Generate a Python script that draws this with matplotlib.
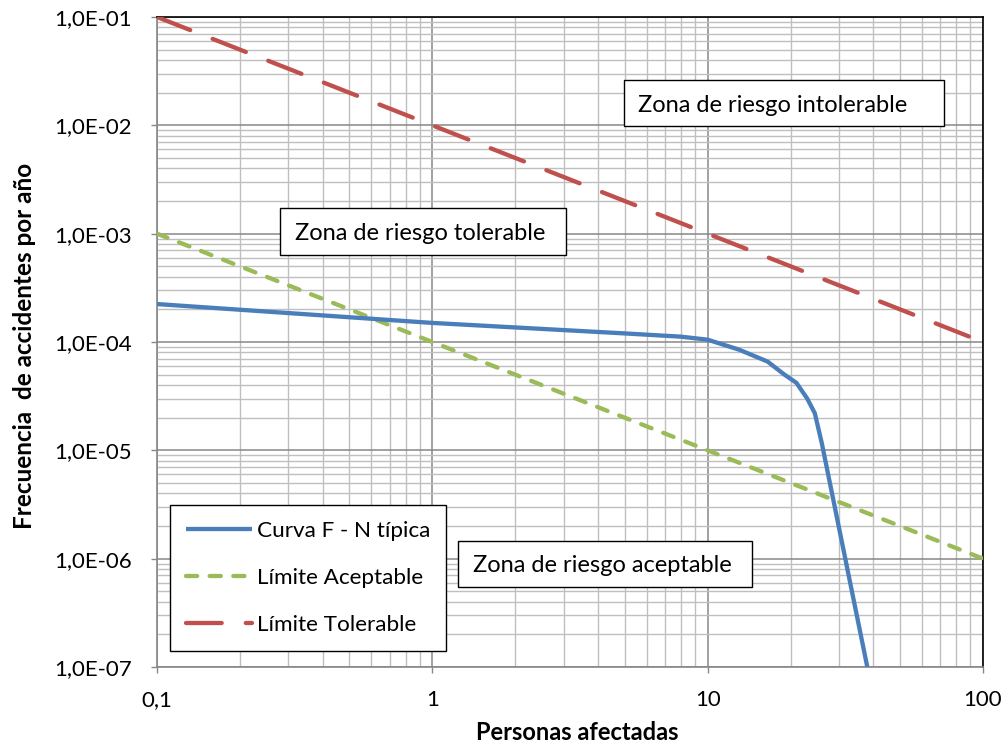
import matplotlib
matplotlib.use("Agg")
import matplotlib.pyplot as plt
from matplotlib.patches import Rectangle
from matplotlib.ticker import LogLocator, FixedLocator, FixedFormatter, NullFormatter

# Typical F-N curve (persons affected vs. yearly frequency)
n_curva = [0.1, 1, 5, 8, 10, 13, 16.5, 19, 21, 23, 24.5, 26, 38]
f_curva = [2.24e-4, 1.5e-4, 1.2e-4, 1.12e-4, 1.05e-4, 8.5e-5, 6.6e-5,
           5.0e-5, 4.2e-5, 3.0e-5, 2.2e-5, 1.15e-5, 1e-7]

# Criterion lines
n_limite = [0.1, 100]
f_aceptable = [1e-3, 1e-6]
f_tolerable = [1e-1, 1e-4]

x_ticks = [0.1, 1, 10, 100]
x_labels = ["0,1", "1", "10", "100"]
y_ticks = [1e-7, 1e-6, 1e-5, 1e-4, 1e-3, 1e-2, 1e-1]
y_labels = ["1,0E-07", "1,0E-06", "1,0E-05", "1,0E-04", "1,0E-03", "1,0E-02", "1,0E-01"]

FONT = "Lato"
plt.rcParams["font.family"] = [FONT, "DejaVu Sans"]

W, H = 1005, 745
PT = 72 / 100  # points per pixel at 100 dpi
fig = plt.figure(figsize=(W / 100, H / 100), dpi=100)
L, R, T, B = 157, 983, 17, 667
ax = fig.add_axes([L / W, 1 - B / H, (R - L) / W, (B - T) / H])
ax.set_xscale("log")
ax.set_yscale("log")
ax.set_xlim(0.1, 100)
ax.set_ylim(1e-7, 1e-1)

major_c = "#878787"
minor_c = "#bfbfbf"
ax.xaxis.set_major_locator(FixedLocator(x_ticks))
ax.xaxis.set_major_formatter(FixedFormatter(x_labels))
ax.yaxis.set_major_locator(FixedLocator(y_ticks))
ax.yaxis.set_major_formatter(FixedFormatter(y_labels))
for axis in (ax.xaxis, ax.yaxis):
    axis.set_minor_locator(LogLocator(base=10, subs=range(2, 10), numticks=20))
    axis.set_minor_formatter(NullFormatter())
ax.grid(which="minor", color=minor_c, lw=1.0)
ax.grid(which="major", color=major_c, lw=1.1)
ax.set_axisbelow(True)
ax.tick_params(which="major", direction="out", length=6 * PT, width=1,
               color=major_c, labelsize=16)
ax.tick_params(axis="y", which="major", pad=19 * PT)
ax.tick_params(axis="x", which="major", pad=17 * PT)
ax.tick_params(which="minor", length=0)

for side in ("top", "right"):
    ax.spines[side].set_color("black")
    ax.spines[side].set_linewidth(1.2)
for side in ("left", "bottom"):
    ax.spines[side].set_color(major_c)
    ax.spines[side].set_linewidth(1.2)

lw = 4.3 * PT
ax.plot(n_curva, f_curva, color="#4a7ebb", lw=lw, solid_capstyle="butt",
        solid_joinstyle="round", label="Curva F - N típica", zorder=4)
ax.plot(n_limite, f_aceptable, color="#9bbb59", lw=lw, dash_capstyle="round",
        dashes=(2.6, 2.9), label="Límite Aceptable", zorder=3)
ax.plot(n_limite, f_tolerable, color="#c0504d", lw=lw, dash_capstyle="round",
        dashes=(8.3, 5.6), label="Límite Tolerable", zorder=3)


def px_box(x0, y0, x1, y1, tx, text):
    ax.add_patch(Rectangle(((x0 - L) / (R - L), (B - y1) / (B - T)),
                           (x1 - x0) / (R - L), (y1 - y0) / (B - T),
                           transform=ax.transAxes, fc="white", ec="black",
                           lw=1.0, zorder=5, clip_on=False))
    ax.text((tx - L) / (R - L), (B - (y0 + y1) / 2) / (B - T), text,
            transform=ax.transAxes, ha="left", va="center_baseline",
            fontsize=17, zorder=6)


px_box(624, 80, 944, 126, 638, "Zona de riesgo intolerable")
px_box(280, 208, 566, 255, 295, "Zona de riesgo tolerable")
px_box(458, 541, 752, 587, 473, "Zona de riesgo aceptable")

leg = ax.legend(loc="upper left",
                bbox_to_anchor=((170 - L) / (R - L), (B - 505) / (B - T)),
                borderaxespad=0, fontsize=16.2, handlelength=2.95,
                handletextpad=0.22, labelspacing=1.2, borderpad=0.7,
                fancybox=False, framealpha=1, edgecolor="black")
leg.get_frame().set_linewidth(1.0)
leg.set_zorder(7)

ax.set_xlabel("Personas afectadas", fontsize=17, fontweight="bold", va="center")
ax.xaxis.set_label_coords((577 - L) / (R - L), (B - 733) / (B - T))
ax.set_ylabel("Frecuencia  de accidentes por año", fontsize=17.5,
              fontweight="bold", va="center")
ax.yaxis.set_label_coords((25 - L) / (R - L), (B - 346) / (B - T))

fig.savefig("out.png", dpi=100)
